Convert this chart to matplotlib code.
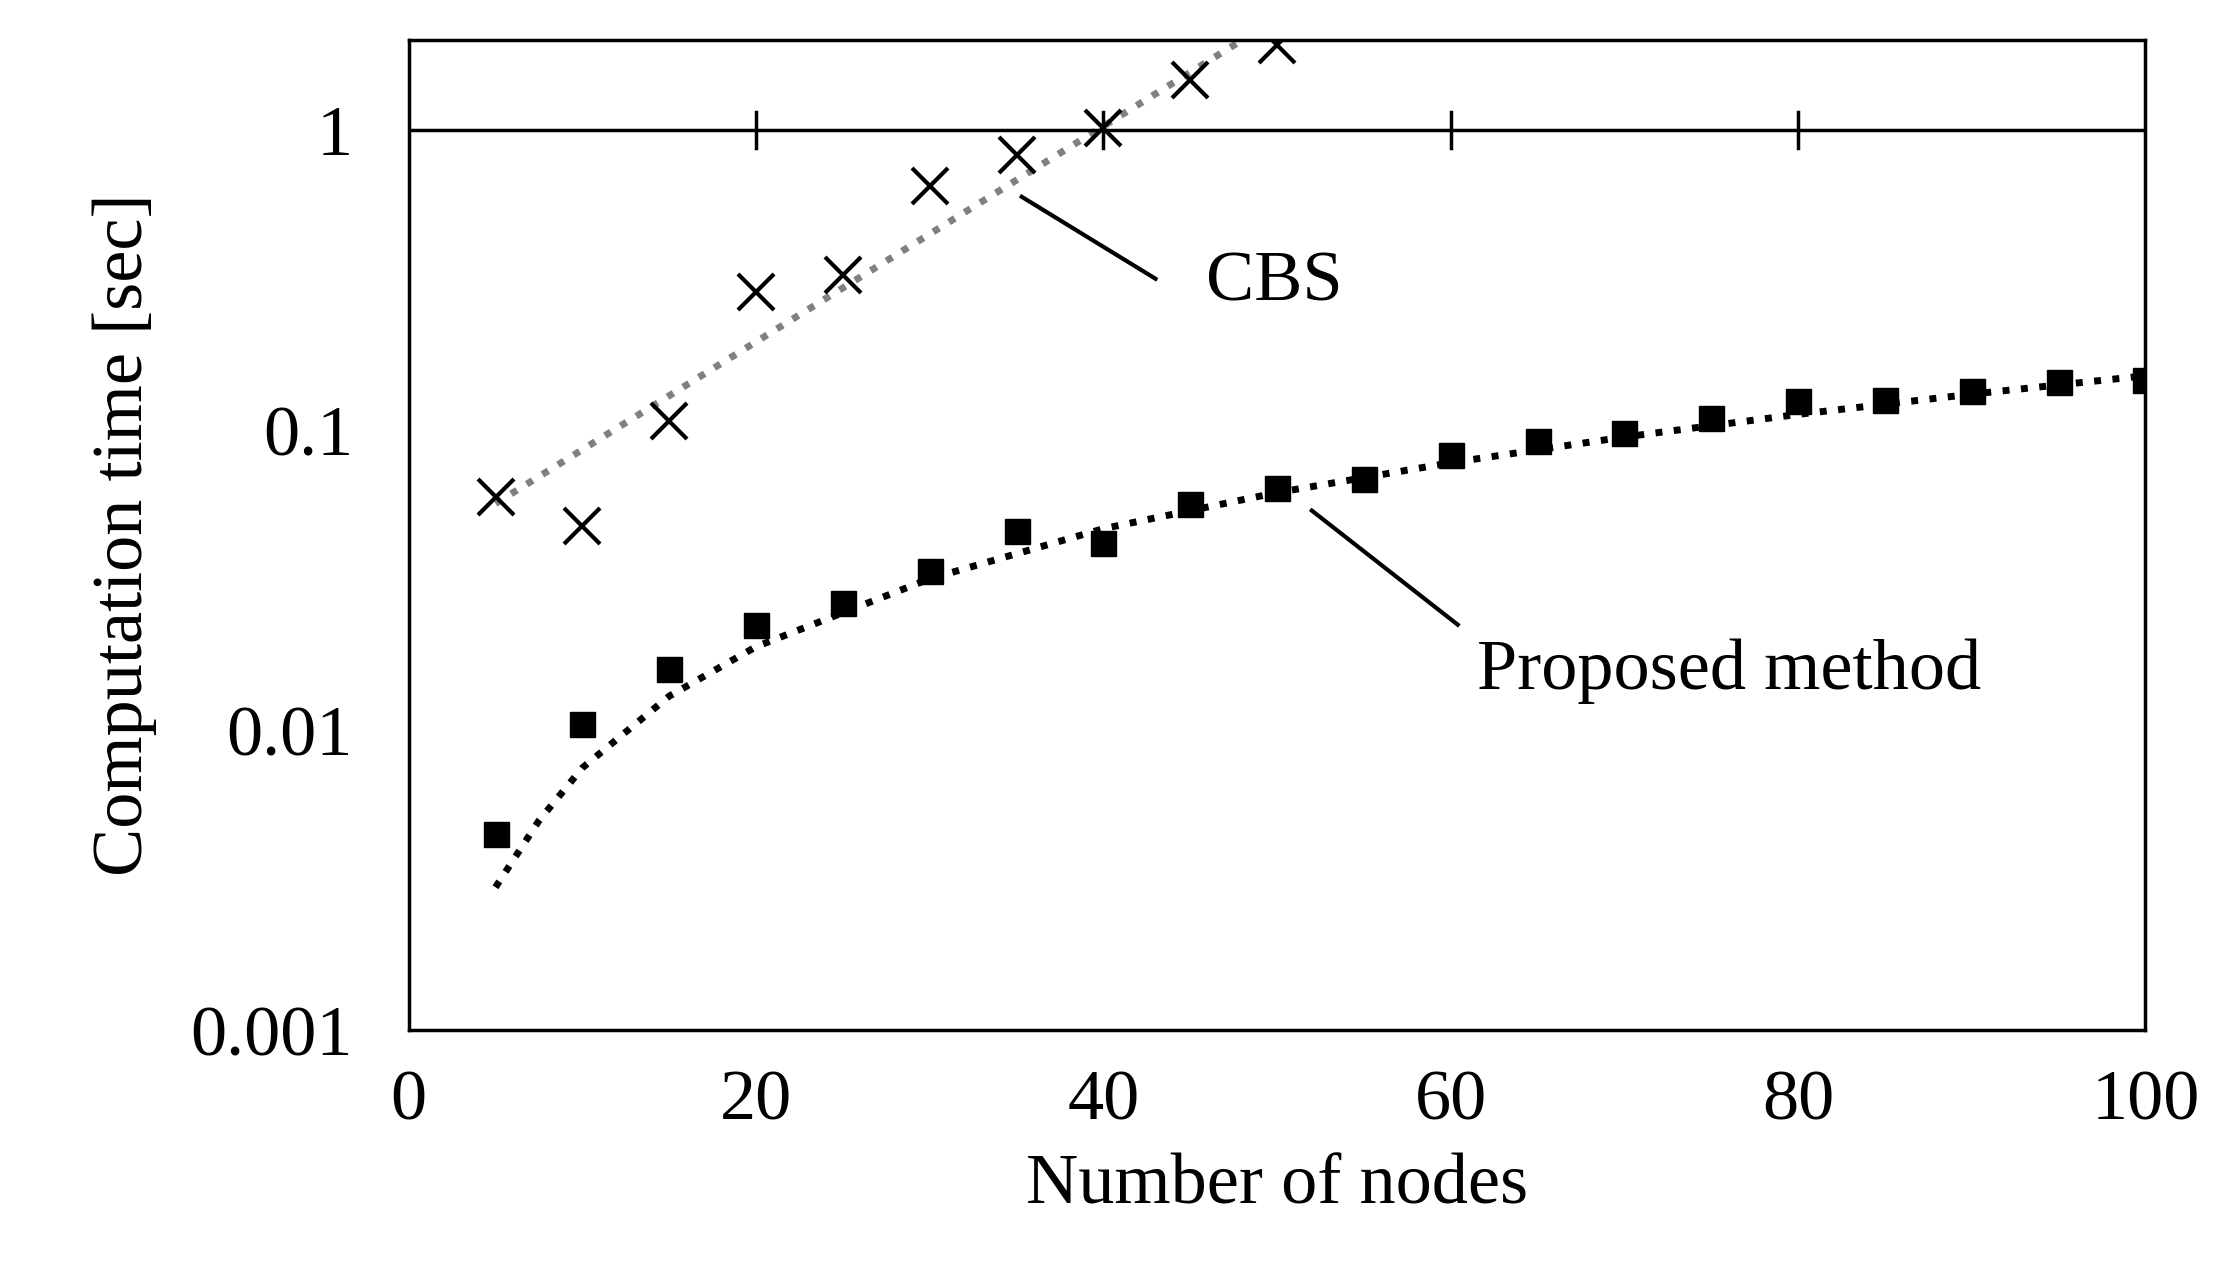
import matplotlib
matplotlib.use("Agg")
import matplotlib.pyplot as plt

plt.rcParams['font.family'] = ['Liberation Serif', 'DejaVu Serif']

nodes = [5,10,15,20,25,30,35,40,45,50,55,60,65,70,75,80,85,90,95,100]
proposed = [0.0045,0.0105,0.016,0.0225,0.0265,0.034,0.046,0.042,0.057,0.064,
            0.069,0.083,0.092,0.098,0.11,0.125,0.126,0.135,0.145,0.147]
cbs_nodes = [5,10,15,20,25,30,35,40,45,50]
cbs = [0.06,0.048,0.107,0.29,0.33,0.65,0.83,1.02,1.47,1.92]
cbs_fit_x = [5,48]
cbs_fit_y = [0.057,2.0]
prop_fit_x = [5,7.5,10,15,20,30,40,50,60,70,80,90,100]
prop_fit_y = [0.003,0.005,0.0075,0.013,0.019,0.032,0.047,0.062,0.078,0.095,0.113,0.132,0.152]

fig = plt.figure(figsize=(22.21,12.88), dpi=100)
ax = fig.add_axes([0.184,0.2,0.782,0.769])
ax.set_yscale('log')
ax.set_xlim(0,100); ax.set_ylim(0.001,2.0)

ax.plot(cbs_fit_x, cbs_fit_y, ls=':', color='#808080', lw=5)
ax.plot(prop_fit_x, prop_fit_y, ls=':', color='black', lw=5)
ax.plot(cbs_nodes, cbs, ls='none', marker='x', color='black', ms=26, mew=3)
ax.plot(nodes, proposed, ls='none', marker='s', color='black', ms=18)

ax.axhline(1, color='black', lw=2.5)
for xv in [20,40,60,80]:
    ax.plot([xv,xv],[10**-0.06,10**0.06], color='black', lw=2.5)

ax.plot([35.3,43.0],[0.60,0.32], color='black', lw=3)
ax.text(45.9,0.31,'CBS', fontsize=52, va='center', ha='left')
ax.plot([52.0,60.4],[0.054,0.0225], color='black', lw=3)
ax.text(61.5,0.0157,'Proposed method', fontsize=52, va='center', ha='left')

ax.set_xticks([0,20,40,60,80,100])
ax.set_yticks([0.001,0.01,0.1,1])
ax.set_yticklabels(['0.001','0.01','0.1','1'])
ax.minorticks_off()
ax.tick_params(labelsize=52, length=0)
ax.tick_params(axis='x', pad=28)
ax.tick_params(axis='y', pad=40)
ax.set_xlabel('Number of nodes', fontsize=52, labelpad=14)
ax.set_ylabel('Computation time [sec]', fontsize=52, labelpad=24)
for s in ax.spines.values():
    s.set_linewidth(2.5)
fig.savefig('out.png', dpi=100)
